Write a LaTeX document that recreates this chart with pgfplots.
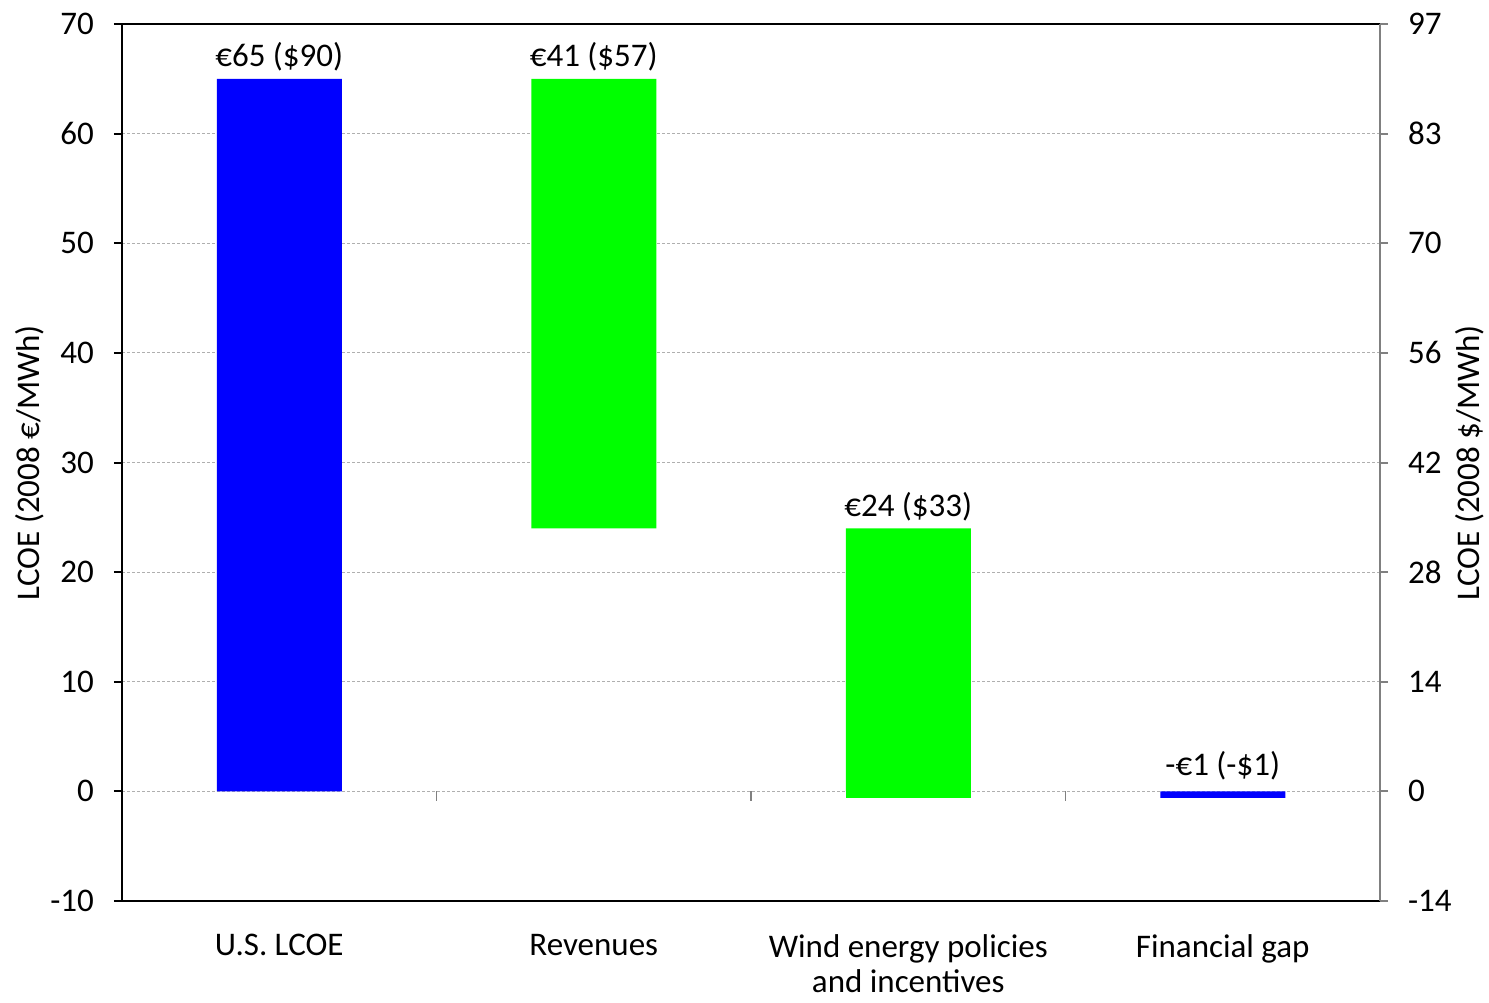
\documentclass[border=0pt]{standalone}
\usepackage{pgfplots}
\pgfplotsset{compat=1.18}
\usepackage{fontspec}
\setmainfont{Carlito}
\definecolor{barblue}{RGB}{0,0,255}
\definecolor{bargreen}{RGB}{0,255,0}
\definecolor{gridgray}{RGB}{175,175,175}
\definecolor{axgray}{RGB}{128,128,128}
\begin{document}
\begin{tikzpicture}
\path[use as bounding box] (-61pt,-50.5pt) rectangle (683.5pt,450.5pt);
\begin{axis}[
  at={(0,0)}, anchor=south west,
  scale only axis, width=629pt, height=438.5pt,
  xmin=-0.5, xmax=3.5, ymin=-10, ymax=70,
  ytick={-10,0,...,70},
  xtick={0,1,2,3},
  xticklabels={U.S. LCOE, Revenues, {Wind energy policies\\and incentives}, Financial gap},
  xticklabel style={align=center, font=\fontsize{16.5}{17.5}\selectfont, inner sep=0pt, yshift=-12.5pt},
  yticklabel style={font=\fontsize{16.5}{19}\selectfont, xshift=-6.5pt},
  /pgf/number format/assume math mode=true,
  xtick style={draw=none},
  axis x line=box, axis y line*=left,
  axis line style={black, line width=1pt},
  ytick style={black, line width=1pt},
  tick align=outside, major tick length=4pt,
  ymajorgrids, grid style={gridgray, dash pattern=on 1.5pt off 1pt, line width=0.5pt},
  ybar stacked, bar width=62.5pt,
]
\addplot+[draw=none, fill=none] coordinates {(0,0) (1,24) (2,0) (3,0)};
\addplot+[draw=none, fill=barblue] coordinates {(0,65) (1,0) (2,0) (3,-0.6)};
\addplot+[draw=none, fill=bargreen] coordinates {(0,0) (1,41) (2,24) (3,0)};
\addplot+[draw=none, fill=bargreen] coordinates {(0,0) (1,0) (2,-0.6) (3,0)};
\draw[axgray, line width=0.6pt] (axis cs:0.5,0) -- ([yshift=-5pt]axis cs:0.5,0);
\draw[axgray, line width=0.6pt] (axis cs:1.5,0) -- ([yshift=-5pt]axis cs:1.5,0);
\draw[axgray, line width=0.6pt] (axis cs:2.5,0) -- ([yshift=-5pt]axis cs:2.5,0);
\node[anchor=south, font=\fontsize{16.5}{19}\selectfont, inner sep=2pt] at (axis cs:0,65.3) {€65 (\$90)};
\node[anchor=south, font=\fontsize{16.5}{19}\selectfont, inner sep=2pt] at (axis cs:1,65.3) {€41 (\$57)};
\node[anchor=south, font=\fontsize{16.5}{19}\selectfont, inner sep=2pt] at (axis cs:2,24.3) {€24 (\$33)};
\node[anchor=south, font=\fontsize{16.5}{19}\selectfont, inner sep=2pt] at (axis cs:3,0.6) {-€1 (-\$1)};
\end{axis}
\begin{axis}[
  at={(0,0)}, anchor=south west,
  scale only axis, width=629pt, height=438.5pt,
  xmin=-0.5, xmax=3.5, ymin=-10, ymax=70,
  axis x line=none, axis y line*=right,
  ytick={-10,0,...,70},
  yticklabels={-14,0,14,28,42,56,70,83,97},
  yticklabel style={font=\fontsize{16.5}{19}\selectfont, xshift=6.5pt},
  axis line style={axgray, line width=1pt},
  ytick style={axgray, line width=1pt},
  tick align=outside, major tick length=4pt,
]
\end{axis}
\node[rotate=90, font=\fontsize{16.5}{19}\selectfont] at (-46pt,219.25pt) {LCOE (2008 €/MWh)};
\node[rotate=90, font=\fontsize{16.5}{19}\selectfont] at (674pt,219.25pt) {LCOE (2008 \$/MWh)};
\end{tikzpicture}
\end{document}
